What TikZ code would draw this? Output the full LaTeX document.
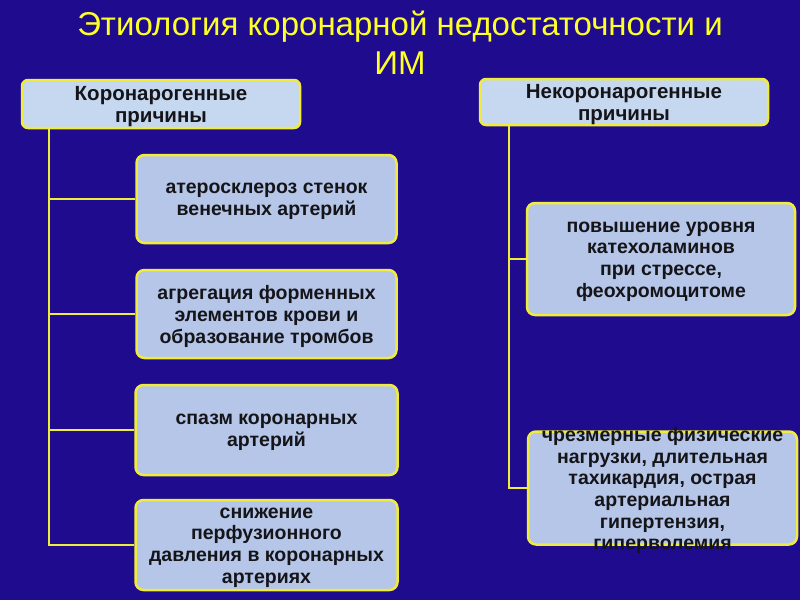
\documentclass[tikz,border=0pt]{standalone}
\usepackage{fontspec}
\setmainfont{Liberation Sans}
\usetikzlibrary{positioning}
\definecolor{bg}{RGB}{30,11,142}
\definecolor{ttl}{RGB}{255,255,40}
\definecolor{edge}{RGB}{240,236,60}
\definecolor{headfill}{RGB}{198,216,240}
\definecolor{boxfill}{RGB}{182,198,232}
\definecolor{ink}{RGB}{20,20,25}
\tikzset{
  x=1pt, y=-1pt,
  headbox/.style={draw=edge, line width=2.5pt, fill=headfill, rounded corners=6pt, inner sep=0pt},
  causebox/.style={draw=edge, line width=2.5pt, fill=boxfill, rounded corners=8pt, inner sep=0pt},
  boxtext/.style={text=ink, font=\bfseries\fontsize{19.5}{21.7}\selectfont, align=center, yshift=-2.5pt},
  headtext/.style={text=ink, font=\bfseries\fontsize{20.5}{22}\selectfont, align=center, yshift=-3pt},
  conn/.style={draw=edge, line width=2.5pt},
}
\begin{document}
\begin{tikzpicture}
\fill[bg] (0,0) rectangle (800,600);
\useasboundingbox (0,0) rectangle (800,600);
\node[text=ttl, font=\fontsize{33}{39}\selectfont, align=center] (title) at (400,43)
  {Этиология коронарной недостаточности и\\ИМ};
% headers
\node[headbox, minimum width=278pt, minimum height=48pt] (h1) at (161,104) {};
\node[headtext] at (h1) {Коронарогенные\\причины};
\node[headbox, minimum width=288pt, minimum height=46pt] (h2) at (624,102) {};
\node[headtext] at (h2) {Некоронарогенные\\причины};
% left causes
\node[causebox, minimum width=260pt, minimum height=88pt] (c1) at (266.5,199) {};
\node[boxtext] at (c1) {атеросклероз стенок\\венечных артерий};
\node[causebox, minimum width=260pt, minimum height=88pt] (c2) at (266.5,314) {};
\node[boxtext] at (c2) {агрегация форменных\\элементов крови и\\образование тромбов};
\node[causebox, minimum width=262pt, minimum height=90pt] (c3) at (266.5,430) {};
\node[boxtext] at (c3) {спазм коронарных\\артерий};
\node[causebox, minimum width=262pt, minimum height=90pt] (c4) at (266.5,545) {};
\node[boxtext] at (c4) {снижение\\перфузионного\\давления в коронарных\\артериях};
% right causes
\node[causebox, minimum width=268pt, minimum height=112pt] (r1) at (661,259) {};
\node[boxtext] at (r1) {повышение уровня\\катехоламинов\\при стрессе,\\феохромоцитоме};
\node[causebox, minimum width=269pt, minimum height=113pt] (r2) at (662.5,488) {};
\node[boxtext] at (r2) {чрезмерные физические\\нагрузки, длительная\\тахикардия, острая\\артериальная\\гипертензия,\\гиперволемия};
% connectors
\coordinate (lt) at ([xshift=28pt]h1.south west);
\coordinate (rt) at ([xshift=30pt]h2.south west);
\draw[conn] (lt) |- (c4.west);
\draw[conn] (c1.west) -- (c1.west -| lt);
\draw[conn] (c2.west) -- (c2.west -| lt);
\draw[conn] (c3.west) -- (c3.west -| lt);
\draw[conn] (rt) |- (r2.west);
\draw[conn] (r1.west) -- (r1.west -| rt);
\end{tikzpicture}
\end{document}
